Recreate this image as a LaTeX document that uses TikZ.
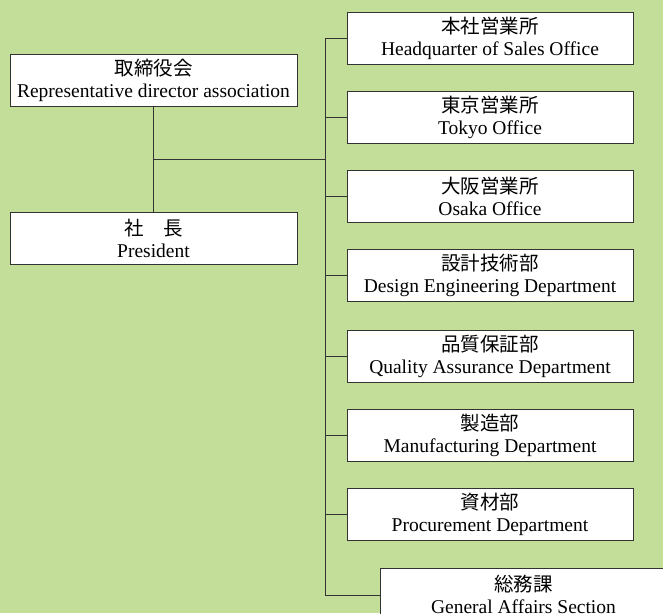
\documentclass[tikz,border=0pt]{standalone}
\usepackage{fontspec}
\setmainfont{Liberation Serif}
\newfontfamily\jp{Noto Sans CJK JP}
\definecolor{bg}{HTML}{C2DE99}
\definecolor{ln}{HTML}{333333}
\begin{document}
\begin{tikzpicture}[x=1pt,y=-1pt,
  orgbox/.style={draw=ln,line width=1pt,fill=white,minimum width=286pt,minimum height=52pt,
    inner sep=0pt,align=center,font=\fontsize{19.5}{22}\selectfont},
  conn/.style={draw=ln,line width=1pt}]
\useasboundingbox (0,0) rectangle (663,613);
\clip (0,0) rectangle (663,613);
\fill[bg] (0,0) rectangle (663,613);
\node[orgbox,minimum width=287pt] (dir) at (153.5,80) {{\jp 取締役会}\\Representative director association};
\node[orgbox,minimum width=287pt] (pres) at (153.5,238) {{\jp 社　長}\\President};
\node[orgbox] (hq) at (490,38.5) {{\jp 本社営業所}\\Headquarter of Sales Office};
\node[orgbox] (tky) at (490,117) {{\jp 東京営業所}\\Tokyo Office};
\node[orgbox] (osk) at (490,196) {{\jp 大阪営業所}\\Osaka Office};
\node[orgbox] (des) at (490,275) {{\jp 設計技術部}\\Design Engineering Department};
\node[orgbox] (qa) at (490,356) {{\jp 品質保証部}\\Quality Assurance Department};
\node[orgbox] (mfg) at (490,435) {{\jp 製造部}\\Manufacturing Department};
\node[orgbox] (proc) at (490,514) {{\jp 資材部}\\Procurement Department};
\node[orgbox,anchor=north west] (ga) at (380,567.5) {{\jp 総務課}\\General Affairs Section};
\coordinate (j) at (154,159);
\coordinate (ttop) at (325,38.5);
\coordinate (tbot) at (325,595);
\draw[conn] (dir.south) -- (pres.north);
\draw[conn] (j) -- (j -| ttop);
\draw[conn] (ttop) -- (tbot);
\foreach \n in {hq,tky,osk,des,qa,mfg,proc}{\draw[conn] (\n.west -| ttop) -- (\n.west);}
\draw[conn] (tbot) -- (tbot -| ga.west);
\end{tikzpicture}
\end{document}
